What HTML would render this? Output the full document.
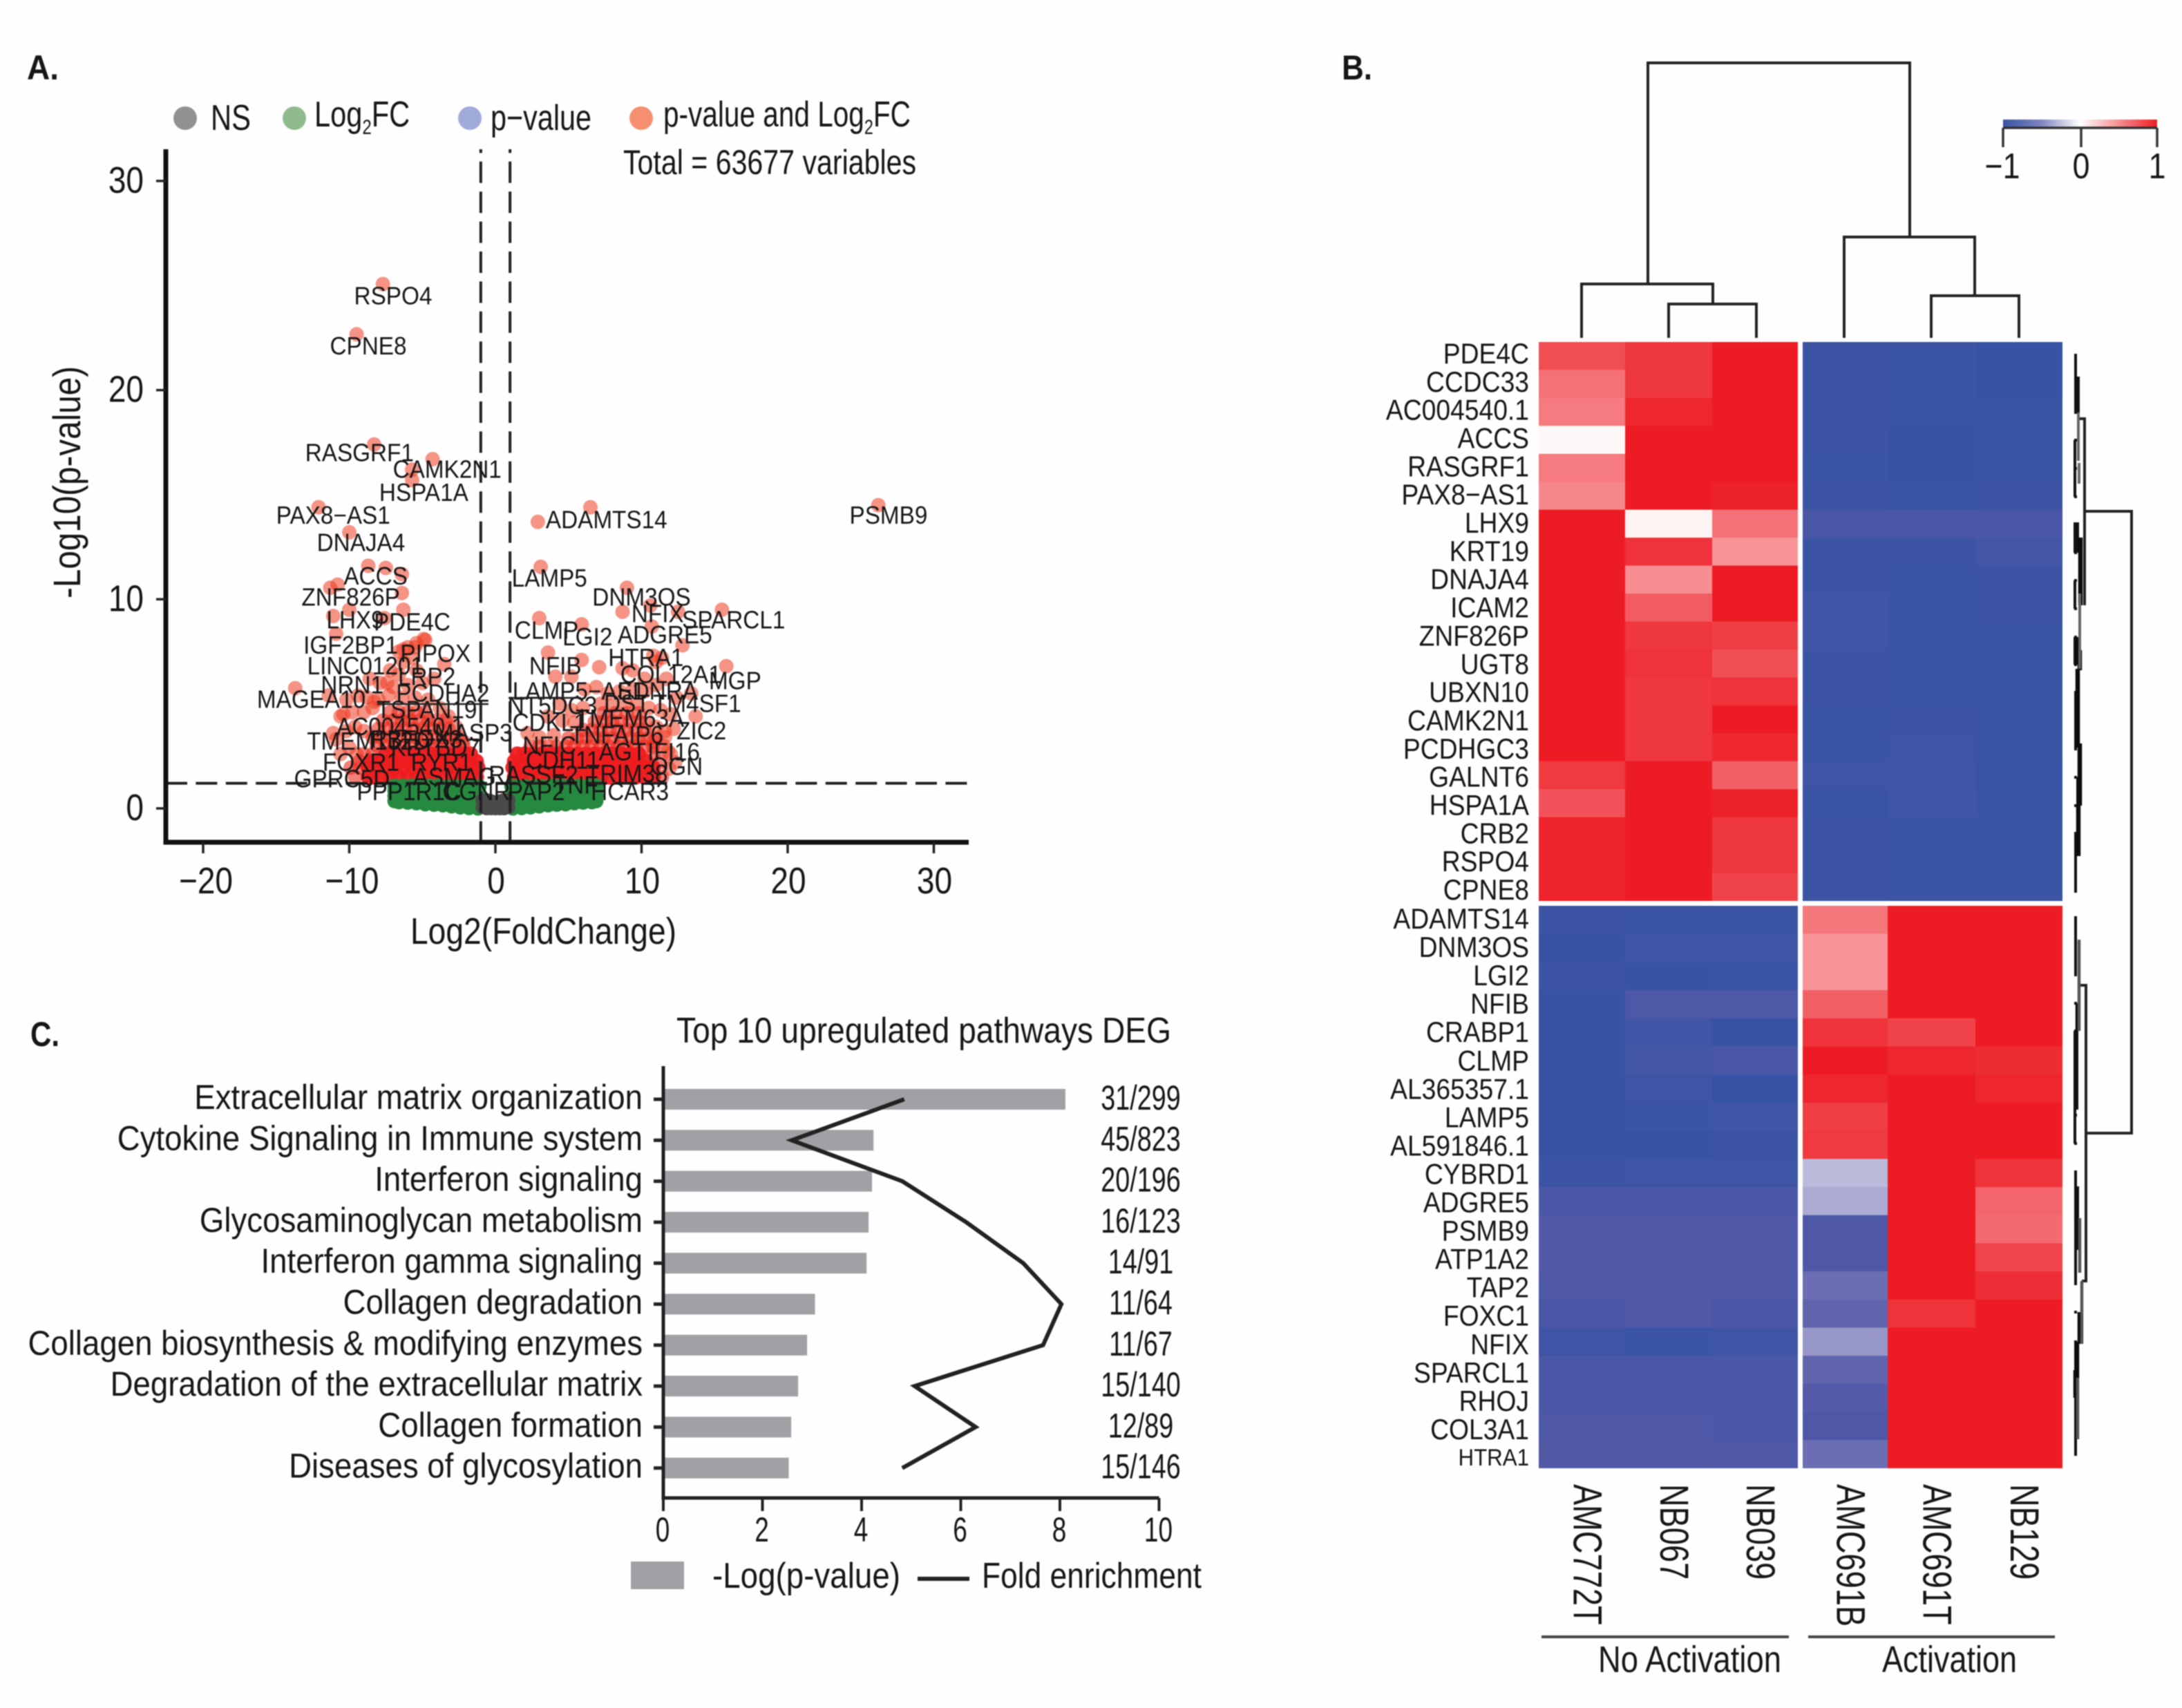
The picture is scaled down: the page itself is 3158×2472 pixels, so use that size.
<!DOCTYPE html>
<html lang="en">
<head>
<meta charset="utf-8">
<title>Volcano plot, heatmap and pathway enrichment</title>
<style>
html,body{margin:0;padding:0;background:#fff;}
svg{display:block;filter:blur(0.9px);}
text{font-family:"Liberation Sans",Arial,sans-serif;fill:#161616;}
</style>
</head>
<body>
<svg id="fig" xmlns="http://www.w3.org/2000/svg" width="3158" height="2472" viewBox="0 0 3158 2472">
  <defs>
    <linearGradient id="cbar" x1="0" x2="1" y1="0" y2="0">
      <stop offset="0" stop-color="#3953a4"/>
      <stop offset="0.25" stop-color="#7f86c0"/>
      <stop offset="0.5" stop-color="#ffffff"/>
      <stop offset="1" stop-color="#ed1c24"/>
    </linearGradient>
  </defs>
  <rect width="3158" height="2472" fill="#fefefe"/>

  <text x="39" y="115" font-size="50" font-weight="bold" textLength="46" lengthAdjust="spacingAndGlyphs">A.</text>
  <text x="1942" y="115" font-size="50" font-weight="bold" textLength="44" lengthAdjust="spacingAndGlyphs">B.</text>
  <text x="44" y="1514" font-size="50" font-weight="bold" textLength="42" lengthAdjust="spacingAndGlyphs">C.</text>

  <g>
    <circle cx="268" cy="171" r="17" fill="#909090"/>
    <text x="305" y="188" font-size="52" textLength="58" lengthAdjust="spacingAndGlyphs">NS</text>
    <circle cx="426" cy="171" r="17" fill="#8fbb8d"/>
    <text transform="translate(455 183) scale(0.8 1)" font-size="52">Log<tspan font-size="30" dy="11">2</tspan><tspan dy="-11">FC</tspan></text>
    <circle cx="680" cy="171" r="17" fill="#a0aadb"/>
    <text x="710" y="188" font-size="52" textLength="146" lengthAdjust="spacingAndGlyphs">p−value</text>
    <circle cx="928" cy="171" r="17" fill="#f58f70"/>
    <text transform="translate(960 183) scale(0.78 1)" font-size="52">p-value and Log<tspan font-size="30" dy="11">2</tspan><tspan dy="-11">FC</tspan></text>
    <text x="902" y="252" font-size="50" textLength="424" lengthAdjust="spacingAndGlyphs">Total = 63677 variables</text>
  </g>

  <g id="volcano-points"></g>
  <g id="volcano-thresholds"></g>
  <g id="volcano-labels"></g>
  <line x1="546" y1="1019" x2="707" y2="1019" stroke="#222" stroke-width="2.5"/>
  <line x1="736" y1="1010" x2="841" y2="1010" stroke="#222" stroke-width="2.5"/>
  <g id="volcano-axes"></g>
  <text transform="translate(116 866) rotate(-90)" font-size="56" textLength="336" lengthAdjust="spacingAndGlyphs">-Log10(p-value)</text>
  <text x="594" y="1366" font-size="54" textLength="385" lengthAdjust="spacingAndGlyphs">Log2(FoldChange)</text>

  <g id="heatmap"></g>
  <path fill="none" stroke="#222" stroke-width="4" d="M2289 489V411H2479V440M2415 489V440H2542V489M2385 411V91H2764V343M2669 489V343H2858V428M2795 489V428H2922V489"/>
  <path fill="none" stroke="#222" stroke-width="4" d="M3008 606H3017V876M3017 740H3085V1640H3020M3010 1426H3019V1854H3013"/>
  <path fill="none" stroke="#111" stroke-width="4" d="M3004 514V597M3008 545V597M3003 637V719M3003 756V800M3007 756V800M3003 840V881M3003 922V962M3004 1000V1084M3007 1125V1166M3004 1206V1290M3002 514H3006M3002 555H3006M3002 597H3006M3002 637H3006M3002 678H3006M3002 719H3006M3002 760H3006M3002 800H3006M3002 840H3006M3002 881H3006M3002 922H3006M3002 962H3006M3002 1003H3006M3002 1044H3006M3002 1084H3006M3002 1125H3006M3002 1166H3006M3002 1206H3006M3002 1247H3006M3002 1290H3006"/>
  <path fill="none" stroke="#0c0c0c" stroke-width="6.5" d="M3011 778V876M3007 922V962M3010 941V970M3007 968V1082M3010 1076V1166M3008 1166V1239"/>
  <path fill="none" stroke="#666" stroke-width="4" d="M3008 597V667M3009 670V700M3010 859V968"/>
  <path fill="none" stroke="#111" stroke-width="4" d="M3004 1328V1411M3003 1492V1655M3006 1492V1606M3004 1696V1858M3007 1717V1809M3004 1942V1994M3004 2023V2105M3002 1328H3006M3002 1370H3006M3002 1411H3006M3002 1452H3006M3002 1492H3006M3002 1533H3006M3002 1574H3006M3002 1614H3006M3002 1655H3006M3002 1696H3006M3002 1736H3006M3002 1777H3006M3002 1818H3006M3002 1858H3006M3002 1899H3006M3002 1942H3006M3002 1983H3006M3002 2023H3006M3002 2064H3006M3002 2105H3006"/>
  <path fill="none" stroke="#0c0c0c" stroke-width="6.5" d="M3007 1452V1492M3010 1899V1945M3006 1942V1994M3004 1983V2023"/>
  <path fill="none" stroke="#555" stroke-width="4.5" d="M3009 1360V1492M3010 1763V1842M3013 1854V1945M3007 1994V2083"/>

  <g>
    <rect x="2899" y="173" width="223" height="11" fill="url(#cbar)"/>
    <path d="M2899 185H3122M2899 185V213M3012 185V213M3122 185V213" fill="none" stroke="#333" stroke-width="3.5"/>
    <text transform="translate(2898 258) scale(0.86 1)" font-size="52" text-anchor="middle">−1</text>
    <text transform="translate(3012 258) scale(0.86 1)" font-size="52" text-anchor="middle">0</text>
    <text transform="translate(3122 258) scale(0.86 1)" font-size="52" text-anchor="middle">1</text>
  </g>

  <line x1="2231" y1="2369" x2="2589" y2="2369" stroke="#444" stroke-width="4"/>
  <line x1="2617" y1="2369" x2="2974" y2="2369" stroke="#444" stroke-width="4"/>
  <text x="2313" y="2420" font-size="54" textLength="265" lengthAdjust="spacingAndGlyphs">No Activation</text>
  <text x="2724" y="2420" font-size="54" textLength="195" lengthAdjust="spacingAndGlyphs">Activation</text>

  <text x="979" y="1509" font-size="52" textLength="716" lengthAdjust="spacingAndGlyphs">Top 10 upregulated pathways DEG</text>
  <g id="pathways"></g>
  <g>
    <rect x="913" y="2260" width="77" height="40" fill="#a0a1a4"/>
    <text x="1031" y="2298" font-size="52" textLength="272" lengthAdjust="spacingAndGlyphs">-Log(p-value)</text>
    <line x1="1328" y1="2285" x2="1403" y2="2285" stroke="#222" stroke-width="6"/>
    <text x="1421" y="2298" font-size="52" textLength="318" lengthAdjust="spacingAndGlyphs">Fold enrichment</text>
  </g>
</svg>

<script>
// ---------- Volcano data ----------
const volcanoXTicks = [-20, -10, 0, 10, 20, 30];
const volcanoYTicks = [0, 10, 20, 30];
const fcCutoffs = [-1, 1];
const pCutoff = 1.2;
const nsPoints = [[-0.9,0.05],[-0.6,0],[-0.3,0],[0,0],[0.3,0],[0.6,0],[0.9,0.05],[-0.9,0.4],[-0.6,0.4],[-0.3,0.35],[0,0.3],[0.3,0.35],[0.6,0.4],[0.9,0.4]];
const log2fcPoints = [
[-6.9,0.35],[-6.6,0.3],[-6,0.28],[-5.4,0.25],[-4.8,0.2],[-4.2,0.18],[-3.6,0.15],[-3,0.1],[-2.4,0.05],[-1.8,0.02],[-1.2,0],
[1.2,0],[1.8,0.02],[2.4,0.05],[3,0.1],[3.6,0.15],[4.2,0.18],[4.8,0.2],[5.4,0.25],[6,0.28],[6.6,0.3],[6.9,0.35],
[-6.9,0.6],[-6.6,0.55],[-6,0.55],[-5.4,0.5],[-4.8,0.5],[-4.2,0.45],[-3.6,0.45],[-3,0.4],[-2.4,0.35],[-1.8,0.35],[-1.2,0.35],
[1.2,0.35],[1.8,0.35],[2.4,0.35],[3,0.4],[3.6,0.45],[4.2,0.45],[4.8,0.5],[5.4,0.5],[6,0.55],[6.6,0.55],[6.9,0.6],
[-6.9,0.85],[-6.6,0.85],[-6,0.85],[-5.4,0.8],[-4.8,0.8],[-4.2,0.8],[-3.6,0.75],[-3,0.75],[-2.4,0.7],[-1.8,0.7],[-1.2,0.7],
[1.2,0.7],[1.8,0.7],[2.4,0.7],[3,0.75],[3.6,0.75],[4.2,0.8],[4.8,0.8],[5.4,0.8],[6,0.85],[6.6,0.85],[6.9,0.85],
[-6.9,1.08],[-6.3,1.08],[-5.7,1.08],[-5.1,1.08],[-4.5,1.08],[-3.9,1.08],[-3.3,1.05],[-2.7,1.05],[-2.1,1.05],[-1.5,1.05],[-1.1,1.05],
[1.1,1.05],[1.5,1.05],[2.1,1.05],[2.7,1.05],[3.3,1.05],[3.9,1.08],[4.5,1.08],[5.1,1.08],[5.7,1.08],[6.3,1.08],[6.9,1.08]];
const denseSigPoints = [
[-8.7,1.5],[-8.4,1.5],[-7.8,1.5],[-7.2,1.5],[-6.6,1.5],[-6,1.5],[-5.4,1.5],[-4.8,1.5],[-4.2,1.5],[-3.6,1.5],[-3,1.5],[-2.4,1.5],[-1.8,1.5],[-1.3,1.5],
[-8.7,1.95],[-8.1,1.95],[-7.5,1.95],[-6.9,1.95],[-6.3,1.95],[-5.7,1.95],[-5.1,1.95],[-4.5,1.95],[-3.9,1.95],[-3.3,1.95],[-2.7,1.95],[-2.1,1.95],[-1.5,1.95],[-1.2,1.95],
[-8.4,2.25],[-7.8,2.25],[-7.2,2.25],[-6.6,2.25],[-6,2.25],[-5.4,2.25],[-4.8,2.25],[-4.2,2.25],[-3.6,2.25],[-3,2.25],[-2.4,2.25],[-1.8,2.25],[-1.3,2.25],
[-7.5,2.6],[-6.9,2.6],[-6.3,2.6],[-5.7,2.6],[-5.1,2.6],[-4.5,2.6],[-3.9,2.6],[-3.3,2.6],[-2.7,2.6],[-2.1,2.6],[-1.7,2.6],
[1.3,1.5],[1.8,1.5],[2.4,1.5],[3,1.5],[3.6,1.5],[4.2,1.5],[4.8,1.5],[5.4,1.5],[6,1.5],[6.6,1.5],[7.2,1.5],[7.8,1.5],[8.4,1.5],[9,1.5],[9.6,1.5],[10.2,1.5],[10.8,1.5],
[1.2,1.95],[1.8,1.95],[2.4,1.95],[3,1.95],[3.6,1.95],[4.2,1.95],[4.8,1.95],[5.4,1.95],[6,1.95],[6.6,1.95],[7.2,1.95],[7.8,1.95],[8.4,1.95],[9,1.95],[9.6,1.95],[10.2,1.95],[10.8,1.95],
[1.3,2.25],[1.9,2.25],[2.5,2.25],[3.1,2.25],[3.7,2.25],[4.3,2.25],[4.9,2.25],[5.5,2.25],[6.1,2.25],[6.7,2.25],[7.3,2.25],[7.9,2.25],[8.5,2.25],[9.1,2.25],[9.7,2.25],[10.3,2.25],
[1.5,2.6],[2,2.6],[2.6,2.6],[3.2,2.6],[3.8,2.6],[4.4,2.6],[5,2.6],[5.6,2.6],[6.2,2.6],[6.8,2.6],[7.4,2.6],[8,2.6],[8.6,2.6],[9.2,2.6],[9.8,2.6]];
const midSigPoints = [
[-8.1,3],[-7.5,3],[-6.9,3],[-6.3,3],[-5.7,3],[-5.1,3],[-4.5,3],[-3.9,3],[-3.3,3],[-2.7,3],[-2.2,3],
[-8.4,3.4],[-7.8,3.4],[-7.2,3.4],[-6.6,3.4],[-6,3.4],[-5.4,3.4],[-4.8,3.4],[-4.2,3.4],[-3.6,3.4],[-3,3.4],[-2.5,3.4],
[-8,3.8],[-7.4,3.8],[-6.8,3.8],[-6.2,3.8],[-5.6,3.8],[-5,3.8],[-4.4,3.8],[-3.8,3.8],[-3.2,3.8],
[-7.7,4.2],[-7,4.2],[-6.4,4.2],[-5.8,4.2],[-5.2,4.2],[-4.6,4.2],[-4,4.2],[-3.4,4.2],
[-7.2,4.6],[-6.6,4.6],[-6,4.6],[-5.4,4.6],[-4.8,4.6],
[2.4,2.95],[3,2.95],[3.6,2.95],[4.2,2.95],[4.8,2.95],[5.4,2.95],[6,2.95],[6.6,2.95],[7.2,2.95],[7.8,2.95],[8.4,2.95],[9,2.95],[9.6,2.95],[10.2,2.95],[10.8,2.95],
[5,3.35],[5.6,3.35],[6.2,3.35],[6.8,3.35],[7.4,3.35],[8,3.35],[8.6,3.35],[9.2,3.35],[9.8,3.35],[10.4,3.35],[11,3.35],
[6,3.75],[6.6,3.75],[7.2,3.75],[7.8,3.75],[8.4,3.75],[9,3.75],[9.6,3.75],[10.2,3.75],
[6.8,4.15],[7.4,4.15],[8,4.15],[8.6,4.15],[9.2,4.15],[9.8,4.15],
[7.4,4.55],[8.2,4.55],[9,4.55],[9.8,4.55],
[-9.6,1.5],[-9.9,1.95],[-9.3,1.95],[-9.3,2.25],[-9,2.6],[-8.4,2.6],[11.4,1.5],[11.3,2.25],[10.8,2.6]];
const sparseSigPoints = [
[-7.7,25.07],[-9.5,22.67],[-8.3,17.4],[-4.3,16.7],[-5.7,16.2],[-5.7,15.7],[-12.1,14.4],[-10,13.2],[2.9,13.7],[6.5,14.4],[26.2,14.5],
[-8.7,11.6],[-7.5,11.5],[-6.4,11.2],[3.1,11.55],[-10.8,10.7],[-11.3,10.55],[-6.4,10.3],[9,10.55],[10.6,9.7],[12.5,9.4],[15.5,9.5],[8.7,9.4],[10.7,8.7],
[-6.3,9.5],[-10,9.5],[-11.1,9.2],[-7.6,9.1],[3,9.1],[5.9,8.8],[-10.9,8.35],[12.8,7.8],[-4.8,8.05],[-6.3,7.6],[-5.5,7.7],[3.6,7.45],[5.9,7.1],[7.1,6.75],[8.7,6.7],[15.8,6.8],
[-3.5,6.9],[11,7],[4.1,6.3],[-13.7,5.75],[13.7,4.4],[13.4,5.5],[-11.4,5.4],[11.6,3.4],[11.8,2.75],[-11.1,3.6],
[-6.6,7.5],[-6,7.7],[-5.4,7.9],[-4.9,8.1],[-6.3,7],[-5.7,7.2],[-7.2,6.6],[-6.6,6.4],[-5.4,6.6],[-8.6,6.2],[-7.9,6],[-7.4,6],[-7,5.8],[-6,5.9],[-5,6],[-4.2,6.2],
[-10.2,5.2],[-9.4,5.4],[-8.8,5.3],[-8.3,5.1],[-8,5.2],[-7.3,5.4],[-6.4,5.3],[-5.5,5.3],[-4.6,5.2],[-10.6,4.4],[-10.4,4.5],[-9.8,4.6],[-9,4.6],[-8.4,4.8],[-3.8,4.8],[-3.2,4.4],[-2.7,3.9],
[-10.9,3.3],[-10.2,3.7],[-9.6,3.9],[-9,3.7],[-10.6,2.6],[-10,2.9],[-9.5,2.6],[-2.2,3.2],
[5.2,6.3],[6.1,5.7],[6.9,5.8],[7.7,5.5],[8.5,5.6],[9.4,5.7],[10.2,5.6],[11,5.9],[11.7,6.2],[12.4,5.3],[7.2,5],[8,4.9],[8.9,5],[9.7,5],[10.5,4.8],[11.3,4.7],[12,4.5],
[4.4,5],[5.2,4.7],[6,4.8],[3.6,4.4],[4.6,4.2],[5.4,4.1],[10.3,4.1],[11,3.9],[11.6,3.7],[12.2,3.8],[2.2,3.6],[3,3.4],[4,3.5],[10.8,3.2],[11.5,3],[12,2.6],[12.3,2.2],[11.9,1.9],[10.8,7.3],[10.2,6.2],[9.4,6.6],[11.4,7.2]];
const geneLabels = [
["RSPO4",-7,24.5],["CPNE8",-8.7,22.1],["RASGRF1",-9.3,17],["CAMK2N1",-3.3,16.2],["HSPA1A",-4.9,15.1],["PAX8−AS1",-11.1,14],["DNAJA4",-9.2,12.7],["ACCS",-8.2,11.1],["ZNF826P",-9.9,10.1],["LHX9",-9.6,9],["PDE4C",-5.7,8.9],
["IGF2BP1",-9.9,7.8],["PIPOX",-4.1,7.4],["LINC01201",-8.9,6.8],["LRP2",-4.7,6.3],["NRN1",-9.8,5.9],["PCDHA2",-3.6,5.5],["MAGEA10",-12.6,5.2],["TSPAN19",-4.7,4.7],["AC004540.1",-6.5,3.9],["MASP3",-1.5,3.6],["TMEM132D",-8.7,3.2],["RBFOX3",-5.4,3.3],["KBTBD7",-4.1,2.9],
["FOXR1",-9.2,2.2],["RYR1",-3.7,2.2],["GPRC5D",-10.5,1.4],["ASMAG",-2.8,1.5],["PPP1R1C",-5.9,0.8],["CGNR",-1.3,0.8],["RASSF2",2.6,1.6],["PAP2",2.8,0.8],["TNF",5.5,1.1],["HCAR3",9.2,0.8],["TRIM38",9,1.65],["OGN",12.4,2],
["CDH11",4.6,2.3],["AGT",8.7,2.7],["IFI16",12.2,2.7],["NFIC",3.7,3],["TNFAIP6",8.3,3.5],["ZIC2",14.1,3.7],["CDKL1",3.7,4.1],["TMEM63A",9.2,4.3],["NT5DC3",3.9,4.9],["DST",9,5],["TM4SF1",13.8,5],["LAMP5−AS1",5.7,5.6],["EDNRA",11.1,5.6],
["MGP",16.4,6.1],["COL12A1",12,6.4],["NFIB",4.1,6.8],["HTRA1",10.3,7.2],["ADGRE5",11.6,8.3],["LGI2",6.3,8.2],["CLMP",3.5,8.5],["SPARCL1",16.3,9],["NFIX",11.1,9.3],["DNM3OS",10,10.1],["LAMP5",3.7,11],["ADAMTS14",7.6,13.8],["PSMB9",26.9,14]];

// ---------- Heatmap data ----------
const sampleNames = ["AMC772T","NB067","NB039","AMC691B","AMC691T","NB129"];
const upperGenes = ["PDE4C","CCDC33","AC004540.1","ACCS","RASGRF1","PAX8−AS1","LHX9","KRT19","DNAJA4","ICAM2","ZNF826P","UGT8","UBXN10","CAMK2N1","PCDHGC3","GALNT6","HSPA1A","CRB2","RSPO4","CPNE8"];
const upperValues = [
[.78,.88,1,-.97,-.98,-1],[.62,.88,1,-.97,-.98,-1],[.58,.95,1,-.97,-.98,-.98],[.03,1,1,-.97,-1,-.98],[.58,1,1,-.98,-1,-.98],[.53,1,.98,-.97,-.98,-.97],
[1,.05,.62,-.88,-.88,-.88],[1,.9,.47,-.97,-.97,-.93],[1,.5,1,-.97,-.98,-.97],[1,.72,1,-.95,-.98,-.97],[1,.88,.85,-.95,-.98,-.98],[1,.9,.78,-.97,-.98,-.98],
[1,.88,.9,-.97,-.98,-.98],[1,.88,1,-.98,-.97,-.98],[1,.88,.95,-.98,-.96,-.98],[.87,1,.7,-.96,-.95,-.99],[.76,1,.98,-.99,-.95,-.98],[.97,1,.88,-.97,-.98,-.98],[.97,1,.88,-.97,-.98,-.98],[.97,1,.83,-.97,-.98,-.98]];
const lowerGenes = ["ADAMTS14","DNM3OS","LGI2","NFIB","CRABP1","CLMP","AL365357.1","LAMP5","AL591846.1","CYBRD1","ADGRE5","PSMB9","ATP1A2","TAP2","FOXC1","NFIX","SPARCL1","RHOJ","COL3A1","HTRA1"];
const lowerValues = [
[-.97,-.98,-.98,.6,1,1],[-1,-.96,-.96,.47,1,1],[-.97,-1,-.99,.47,1,1],[-1,-.86,-.86,.7,1,1],[-1,-.95,-1,.9,.83,1],[-1,-.92,-.88,1,.95,.93],[-1,-.96,-1,.95,1,.95],
[-1,-.98,-.95,.85,1,1],[-1,-1,-.97,.87,1,1],[-.97,-.96,-.96,-.33,1,.9],[-.87,-.87,-.87,-.4,1,.68],[-.82,-.82,-.82,-.85,1,.65],[-.82,-.82,-.82,-.85,1,.82],[-.85,-.85,-.85,-.7,1,.92],
[-.88,-.83,-.88,-.75,.9,1],[-.96,-.98,-.95,-.5,1,1],[-.87,-.87,-.87,-.75,1,1],[-.87,-.87,-.87,-.8,1,1],[-.85,-.85,-.87,-.85,1,1],[-.83,-.83,-.85,-.7,1,1]];

// ---------- Pathway data ----------
const pathways = ["Extracellular matrix organization","Cytokine Signaling in Immune system","Interferon signaling","Glycosaminoglycan metabolism","Interferon gamma signaling","Collagen degradation","Collagen biosynthesis & modifying enzymes","Degradation of the extracellular matrix","Collagen formation","Diseases of glycosylation"];
const logPValues = [8.11,4.24,4.21,4.14,4.1,3.06,2.9,2.72,2.58,2.53];
const foldEnrichment = [4.86,2.59,4.82,6.11,7.26,8.03,7.66,5.07,6.3,4.82];
const geneRatios = ["31/299","45/823","20/196","16/123","14/91","11/64","11/67","15/140","12/89","15/146"];
const pathwayTicks = [0,2,4,6,8,10];

// ---------- Helpers ----------
const NS = "http://www.w3.org/2000/svg";
function mk(parent, tag, attrs, content) {
  const n = document.createElementNS(NS, tag);
  for (const k in attrs) n.setAttribute(k, attrs[k]);
  if (content !== undefined) n.textContent = content;
  parent.appendChild(n);
  return n;
}
function label(parent, str, x, y, size, sx, anchor) {
  return mk(parent, "text", {transform:`translate(${x} ${y}) scale(${sx} 1)`, "font-size":size, "text-anchor":anchor}, str);
}
const xV = v => 717 + 21.15 * v;
const yV = v => 1170 - 30.27 * v;
const xP = v => 960 + 71.75 * v;
const yP = i => 1591 + 59.3 * i;
const stops = [[-1,[57,83,164]],[-0.8,[85,90,168]],[-0.5,[150,150,200]],[0,[255,255,255]],[1,[237,28,36]]];
function colour(v) {
  for (let i = 1; i < stops.length; i++) {
    if (v <= stops[i][0]) {
      const a = stops[i-1], b = stops[i], t = (v - a[0]) / (b[0] - a[0]);
      const c = a[1].map((q, j) => Math.round(q + (b[1][j] - q) * t));
      return `rgb(${c[0]},${c[1]},${c[2]})`;
    }
  }
  return "rgb(237,28,36)";
}

// ---------- Volcano ----------
const gPts = document.getElementById("volcano-points");
sparseSigPoints.forEach(p => {
  const el = mk(gPts, "circle", {cx:xV(p[0]), cy:yV(p[1]), r:10.5, fill:"#ec3a20", "fill-opacity":0.55});
  
  
});
midSigPoints.forEach(p => {
  const el = mk(gPts, "circle", {cx:xV(p[0]), cy:yV(p[1]), r:10.5, fill:"#ec2a1c", "fill-opacity":0.6});
  
  
});
denseSigPoints.forEach(p => {
  const el = mk(gPts, "circle", {cx:xV(p[0]), cy:yV(p[1]), r:11, fill:"#ee1c20", "fill-opacity":0.95});
  
  
});
log2fcPoints.forEach(p => {
  const el = mk(gPts, "circle", {cx:xV(p[0]), cy:yV(p[1]), r:10.5, fill:"#258a3f"});
  
  
});
nsPoints.forEach(p => {
  const el = mk(gPts, "circle", {cx:xV(p[0]), cy:yV(p[1]), r:10, fill:"#4a4a4a"});
  
  
});

const gThr = document.getElementById("volcano-thresholds");
fcCutoffs.forEach(v => {
  const el = mk(gThr, "line", {x1:xV(v), x2:xV(v), y1:216, y2:1216, stroke:"#222", "stroke-width":4, "stroke-dasharray":"31 12.4", "stroke-dashoffset":25.6});
  
  
});
{
  const el = mk(gThr, "line", {x1:240, x2:1402, y1:yV(pCutoff), y2:yV(pCutoff), stroke:"#222", "stroke-width":4, "stroke-dasharray":"31 12.4"});
  
  
}

const gLab = document.getElementById("volcano-labels");
geneLabels.forEach(g => {
  const el = label(gLab, g[0], xV(g[1]), yV(g[2]) + 12, 36, 0.925, "middle");
  
  
});

const gAx = document.getElementById("volcano-axes");
{
  const el = mk(gAx, "path", {d:"M240 216V1219H1402", fill:"none", stroke:"#111", "stroke-width":7});
  
  
}
volcanoXTicks.forEach(t => {
  const tick = mk(gAx, "line", {x1:xV(t), x2:xV(t), y1:1219, y2:1235, stroke:"#222", "stroke-width":3.5});
  
  
  const el = label(gAx, t < 0 ? "−" + (-t) : String(t), xV(t) + (t < 0 ? 4 : 1), 1293, 54, 0.852, "middle");
  
  
});
volcanoYTicks.forEach(t => {
  const tick = mk(gAx, "line", {x1:226, x2:240, y1:yV(t), y2:yV(t), stroke:"#222", "stroke-width":3.5});
  
  
  const el = label(gAx, String(t), 208, yV(t) + 17, 54, 0.852, "end");
  
  
});

// ---------- Heatmap ----------
const gHeat = document.getElementById("heatmap");
const colEdges = [2227, 2352, 2478, 2602, 2609, 2732, 2859, 2985];
const colBand = c => c < 3 ? [colEdges[c], colEdges[c+1]] : [colEdges[c+1], colEdges[c+2]];
function drawBlock(genes, values, top, bottom, labelFirst, labelLast, prefix) {
  const rowH = (bottom - top) / genes.length;
  const labelStep = (labelLast - labelFirst) / (genes.length - 1);
  values.forEach((row, r) => {
    row.forEach((v, c) => {
      const [a, b] = colBand(c);
      const cell = mk(gHeat, "rect", {x:a, y:top + r * rowH, width:b - a, height:rowH + (r < genes.length - 1 ? 0.6 : 0), fill:colour(v)});
      
      
    });
    const isSmall = genes[r] === "HTRA1" && prefix === "lower";
    const lab = label(gHeat, genes[r], 2213, labelFirst + r * labelStep + (isSmall ? 12 : 15), isSmall ? 34 : 42, isSmall ? 0.92 : 0.887, "end");
    
    
  });
}
drawBlock(upperGenes, upperValues, 495, 1304, 511, 1287, "upper");
drawBlock(lowerGenes, lowerValues, 1311, 2125, 1329, 2109, "lower");
sampleNames.forEach((s, c) => {
  const [a, b] = colBand(c);
  const baseline = (a + b) / 2 - 12;
  const el = mk(gHeat, "text", {transform:`translate(${baseline} 2148) rotate(90) scale(0.78 1)`, "font-size":58}, s);
  
  
});

// ---------- Pathway chart ----------
const gPath = document.getElementById("pathways");
logPValues.forEach((v, i) => {
  const el = mk(gPath, "rect", {x:xP(0), y:yP(i) - 15, width:xP(v) - xP(0), height:30, fill:"#a0a1a4"});
  
  
});
{
  const el = mk(gPath, "polyline", {points:foldEnrichment.map((v, i) => `${xP(v)},${yP(i)}`).join(" "), fill:"none", stroke:"#222", "stroke-width":6});
  
  
}
{
  const el = mk(gPath, "path", {d:`M960 1543V2168H${xP(10)}`, fill:"none", stroke:"#222", "stroke-width":5});
  
  
}
pathways.forEach((p, i) => {
  const tick = mk(gPath, "line", {x1:946, x2:960, y1:yP(i), y2:yP(i), stroke:"#222", "stroke-width":5});
  
  
  const el = label(gPath, p, 930, yP(i) + 14, 50, 0.912, "end");
  
  
  const r = label(gPath, geneRatios[i], 1651, yP(i) + 15, 50, 0.755, "middle");
  
  
});
pathwayTicks.forEach(t => {
  const tick = mk(gPath, "line", {x1:xP(t), x2:xP(t), y1:2168, y2:2187, stroke:"#222", "stroke-width":4});
  
  
  const el = label(gPath, String(t), xP(t) - 1, 2231, 50, 0.74, "middle");
  
  
});
</script>
</body>
</html>
